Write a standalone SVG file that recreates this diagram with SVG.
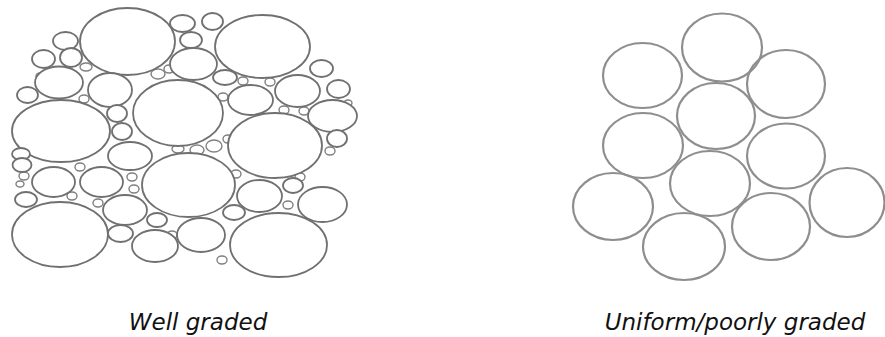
<svg xmlns="http://www.w3.org/2000/svg" width="885" height="337" viewBox="0 0 885 337">
<style>
.w ellipse{fill:#fff;stroke:#707070;stroke-width:1.8}
.w .t{stroke-width:1.4;stroke:#808080}
.u ellipse{fill:none;stroke:#8e8e8e;stroke-width:2.2}
.lbl{font-family:"DejaVu Sans","Liberation Sans",sans-serif;font-style:italic;font-size:23px;fill:#111;text-anchor:middle}
</style>
<rect width="885" height="337" fill="#fff"/>
<g id="well-graded" class="w">
<!-- tiny fillers -->
<ellipse class="t" cx="86" cy="67" rx="6" ry="4"/>
<ellipse class="t" cx="88" cy="53" rx="5" ry="4"/>
<ellipse class="t" cx="84" cy="99" rx="5" ry="4"/>
<ellipse class="t" cx="158" cy="74" rx="7" ry="5"/>
<ellipse class="t" cx="169" cy="69" rx="5" ry="4"/>
<ellipse class="t" cx="243" cy="81" rx="5" ry="4"/>
<ellipse class="t" cx="270" cy="82" rx="5" ry="4"/>
<ellipse class="t" cx="284" cy="110" rx="5" ry="4"/>
<ellipse class="t" cx="304" cy="111" rx="5" ry="4"/>
<ellipse class="t" cx="178" cy="149" rx="6" ry="4"/>
<ellipse class="t" cx="197" cy="150" rx="7" ry="5"/>
<ellipse class="t" cx="214" cy="146" rx="8" ry="6"/>
<ellipse class="t" cx="228" cy="139" rx="5" ry="4"/>
<ellipse class="t" cx="330" cy="151" rx="5" ry="4"/>
<ellipse class="t" cx="300" cy="177" rx="5" ry="4"/>
<ellipse class="t" cx="288" cy="205" rx="5" ry="4"/>
<ellipse class="t" cx="72" cy="196" rx="5" ry="4"/>
<ellipse class="t" cx="80" cy="167" rx="5" ry="4"/>
<ellipse class="t" cx="98" cy="203" rx="5" ry="4"/>
<ellipse class="t" cx="132" cy="177" rx="5" ry="4"/>
<ellipse class="t" cx="134" cy="189" rx="5" ry="4"/>
<ellipse class="t" cx="172" cy="235" rx="5" ry="4"/>
<ellipse class="t" cx="24" cy="176" rx="5" ry="4"/>
<ellipse class="t" cx="20" cy="184" rx="4" ry="3"/>
<ellipse class="t" cx="40" cy="76" rx="4" ry="3"/>
<ellipse class="t" cx="96" cy="113" rx="4" ry="3"/>
<ellipse class="t" cx="76" cy="155" rx="5" ry="4"/>
<ellipse class="t" cx="150" cy="95" rx="4" ry="3"/>
<ellipse class="t" cx="223" cy="97" rx="5" ry="4"/>
<ellipse class="t" cx="236" cy="174" rx="5" ry="4"/>
<ellipse class="t" cx="348" cy="103" rx="4" ry="3"/>
<ellipse class="t" cx="222" cy="260" rx="5" ry="4"/>
<!-- large -->
<ellipse cx="127.5" cy="41.5" rx="47.5" ry="33.5"/>
<ellipse cx="262.5" cy="46.5" rx="47.5" ry="31.5"/>
<ellipse cx="178" cy="113" rx="45" ry="33"/>
<ellipse cx="61" cy="131" rx="49" ry="31"/>
<ellipse cx="275" cy="145.5" rx="47" ry="32.5"/>
<ellipse cx="188.5" cy="185" rx="46.5" ry="32"/>
<ellipse cx="60" cy="234.5" rx="48" ry="32.5"/>
<ellipse cx="278.5" cy="245" rx="48.5" ry="32"/>
<!-- medium -->
<ellipse cx="59" cy="82.5" rx="24" ry="16"/>
<ellipse cx="110" cy="90" rx="22" ry="17"/>
<ellipse cx="193.5" cy="64" rx="23.5" ry="16"/>
<ellipse cx="297.5" cy="91" rx="22.5" ry="16"/>
<ellipse cx="250.5" cy="100" rx="22.5" ry="15"/>
<ellipse cx="332.5" cy="116" rx="24.5" ry="16"/>
<ellipse cx="130" cy="156" rx="22" ry="14"/>
<ellipse cx="53.5" cy="182" rx="21.5" ry="15"/>
<ellipse cx="101.5" cy="182" rx="21.5" ry="15"/>
<ellipse cx="125" cy="210" rx="22" ry="15"/>
<ellipse cx="155" cy="246" rx="23" ry="16"/>
<ellipse cx="259.5" cy="196" rx="22.5" ry="16"/>
<ellipse cx="322.5" cy="204.5" rx="24.5" ry="17.5"/>
<ellipse cx="201" cy="235" rx="24" ry="17"/>
<!-- small -->
<ellipse cx="65.5" cy="41" rx="12.5" ry="9"/>
<ellipse cx="43.5" cy="59" rx="11.5" ry="9"/>
<ellipse cx="71" cy="57.5" rx="11" ry="9.5"/>
<ellipse cx="27.5" cy="95" rx="10.5" ry="8"/>
<ellipse cx="117" cy="113.5" rx="10" ry="8.5"/>
<ellipse cx="122" cy="131.5" rx="10" ry="8.5"/>
<ellipse cx="182.5" cy="23.5" rx="12.5" ry="8.5"/>
<ellipse cx="212.5" cy="21.5" rx="10.5" ry="8.5"/>
<ellipse cx="191" cy="40" rx="11" ry="8"/>
<ellipse cx="225" cy="77.5" rx="12" ry="7.5"/>
<ellipse cx="321.5" cy="68.5" rx="11.5" ry="8.5"/>
<ellipse cx="338.5" cy="89" rx="11.5" ry="9"/>
<ellipse cx="337" cy="138.5" rx="10" ry="8.5"/>
<ellipse cx="21" cy="154" rx="9" ry="6"/>
<ellipse cx="22" cy="165" rx="9.5" ry="7"/>
<ellipse cx="26" cy="199.5" rx="11" ry="7.5"/>
<ellipse cx="120.5" cy="233.5" rx="12.5" ry="8.5"/>
<ellipse cx="157" cy="220" rx="10" ry="7"/>
<ellipse cx="293" cy="185.5" rx="10" ry="7.5"/>
<ellipse cx="234" cy="212.5" rx="11" ry="7.5"/>
</g>
<g id="uniform" class="u">
<ellipse cx="722" cy="47.5" rx="40" ry="34"/>
<ellipse cx="786" cy="84" rx="39" ry="34"/>
<ellipse cx="642.5" cy="75.5" rx="39.5" ry="32.5"/>
<ellipse cx="716" cy="116" rx="39" ry="33"/>
<ellipse cx="643" cy="145.5" rx="40" ry="32.5"/>
<ellipse cx="786" cy="156" rx="39" ry="32.5"/>
<ellipse cx="710" cy="183.5" rx="40" ry="32.5"/>
<ellipse cx="613" cy="206.5" rx="40" ry="33.5"/>
<ellipse cx="684" cy="246.5" rx="41" ry="33.5"/>
<ellipse cx="771" cy="226.5" rx="39" ry="33.5"/>
<ellipse cx="847" cy="202.5" rx="37.5" ry="34.5"/>
</g>
<g id="labels">
<text class="lbl" x="198" y="330">Well graded</text>
<text class="lbl" x="735" y="330">Uniform/poorly graded</text>
</g>
</svg>
